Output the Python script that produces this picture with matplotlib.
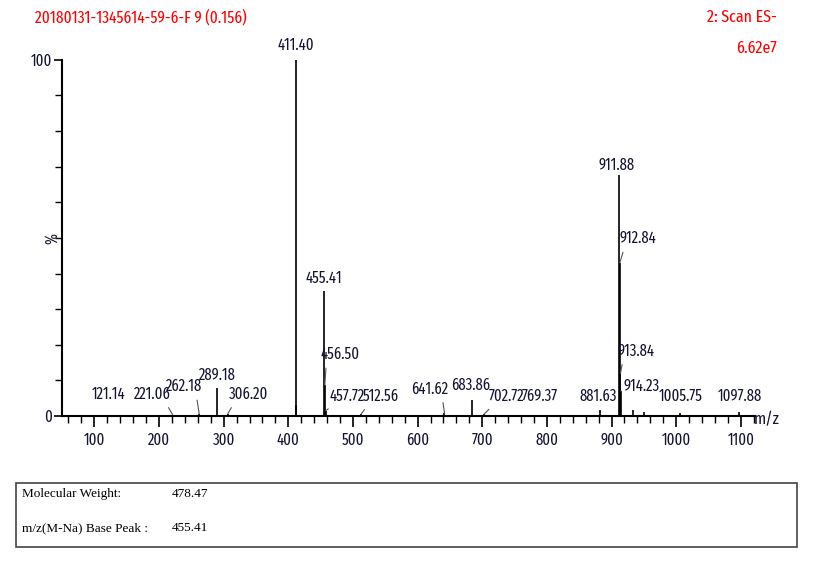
import matplotlib
matplotlib.use("Agg")
from matplotlib import pyplot as plt
from matplotlib.ticker import MultipleLocator
from matplotlib.patches import Rectangle
from matplotlib import font_manager

# dados do espectro (m/z, intensidade relativa %)
mz = [121.14, 221.06, 262.18, 289.18, 306.20, 411.40, 412.40, 455.41, 456.50, 457.72,
      512.56, 641.62, 683.86, 702.72, 769.37, 881.63, 911.88, 912.84, 913.84, 914.23,
      933.0, 950.0, 1005.75, 1097.88]
intensidade = [0.4, 0.4, 0.6, 8.0, 0.6, 100.0, 3.0, 35.0, 8.7, 1.5,
               0.5, 0.8, 4.5, 0.5, 0.3, 1.8, 67.7, 43.0, 12.0, 7.0,
               1.8, 1.2, 0.8, 1.2]

# picos rotulados
rot_mz = [121.14, 221.06, 262.18, 289.18, 306.20, 411.40, 455.41, 456.50, 457.72, 512.56,
          641.62, 683.86, 702.72, 769.37, 881.63, 911.88, 912.84, 913.84, 914.23, 1005.75, 1097.88]
rot_txt = ["121.14", "221.06", "262.18", "289.18", "306.20", "411.40", "455.41", "456.50", "457.72", "512.56",
           "641.62", "683.86", "702.72", "769.37", "881.63", "911.88", "912.84", "913.84", "914.23", "1005.75", "1097.88"]

# posicao dos textos (x, y em unidades dos eixos) e se tem linha guia
rot_pos = [(121.7, 3.8), (190, 3.8), (238, 6.0), (290, 9.3), (338, 3.8), (411.40, 101.8),
           (455.41, 36.5), (480, 15.0), (491, 3.2), (543, 3.2), (618, 5.3), (682, 6.5),
           (737, 3.2), (789, 3.2), (880, 3.2), (908, 68.0), (940, 47.5), (938, 16.0),
           (947, 6.0), (1007, 3.2), (1098, 3.2)]
guia = [False, True, True, False, True, False, False, True, True, True, True, False,
        True, False, False, False, True, True, True, False, False]

mol_weight = "478.47"
base_peak = "455.41"

nomes = set(f.name for f in font_manager.fontManager.ttflist)
preferidas = ["Liberation Sans Narrow", "Arial Narrow", "Fira Sans Extra Condensed",
              "Sofia Sans Extra Condensed", "Barlow Condensed", "Roboto Condensed",
              "Archivo Narrow", "Liberation Sans"]
fonte = next(f for f in preferidas if f in nomes)
tcor = "#141432"
tam = 11.5

fig = plt.figure(figsize=(8.27, 5.81), dpi=100)
ax = fig.add_axes([0.075, 0.284, 0.838, 0.613])

ax.vlines(mz, 0, intensidade, color="black", linewidth=1.2)

ax.set_xlim(50, 1122)
ax.set_ylim(0, 100)
for s in ["top", "right"]:
    ax.spines[s].set_visible(False)
ax.spines["left"].set_linewidth(1.5)
ax.spines["bottom"].set_linewidth(1.5)

ax.xaxis.set_minor_locator(MultipleLocator(20))
ax.yaxis.set_minor_locator(MultipleLocator(10))
ax.tick_params(axis="both", which="major", length=8, width=1.2, colors="black",
               labelcolor=tcor, labelsize=tam)
ax.tick_params(axis="y", which="major", length=6, pad=1)
ax.tick_params(axis="both", which="minor", length=5, width=1.0)
ax.set_xticks(range(100, 1101, 100))
ax.set_xticklabels([str(v) for v in range(100, 1101, 100)], family=fonte)
ax.set_yticks([0, 100])
ax.set_yticklabels(["0", "100"], family=fonte)

for m, t, (tx, ty), g in zip(rot_mz, rot_txt, rot_pos, guia):
    h = intensidade[mz.index(m)]
    if g:
        rel = (0.15, 0) if tx > m else (0.85, 0)
        ax.annotate(t, xy=(m, h), xytext=(tx, ty), ha="center", va="bottom",
                    fontsize=tam, family=fonte, color=tcor, annotation_clip=False,
                    arrowprops=dict(arrowstyle="-", color="#555555", lw=0.8,
                                    shrinkA=2, shrinkB=0, relpos=rel))
    else:
        ax.text(tx, ty, t, ha="center", va="bottom", fontsize=tam, family=fonte,
                color=tcor, clip_on=False)

fig.text(0.063, 0.59, "%", rotation=90, ha="center", va="center", fontsize=tam,
         family=fonte, color=tcor)
fig.text(0.927, 0.278, "m/z", ha="center", va="center", fontsize=tam + 1, family=fonte, color=tcor)

fig.text(0.042, 0.970, "20180131-1345614-59-6-F 9 (0.156)", ha="left", va="center",
         fontsize=tam + 0.5, family=fonte, color="red")
fig.text(0.939, 0.970, "2: Scan ES-", ha="right", va="center", fontsize=tam + 1, family=fonte, color="red")
fig.text(0.939, 0.917, "6.62e7", ha="right", va="center", fontsize=tam + 1, family=fonte, color="red")

# tabela inferior
fig.patches.append(Rectangle((0.019, 0.059), 0.945, 0.110, transform=fig.transFigure,
                             fill=False, edgecolor="#444444", linewidth=1.2))
serif = dict(ha="left", va="center", fontsize=9.5, family="Liberation Serif", color="black")
fig.text(0.027, 0.150, "Molecular Weight:", **serif)
fig.text(0.208, 0.150, mol_weight, **serif)
fig.text(0.027, 0.091, "m/z(M-Na) Base Peak :", **serif)
fig.text(0.208, 0.091, base_peak, **serif)

fig.savefig("out.png", dpi=100)
